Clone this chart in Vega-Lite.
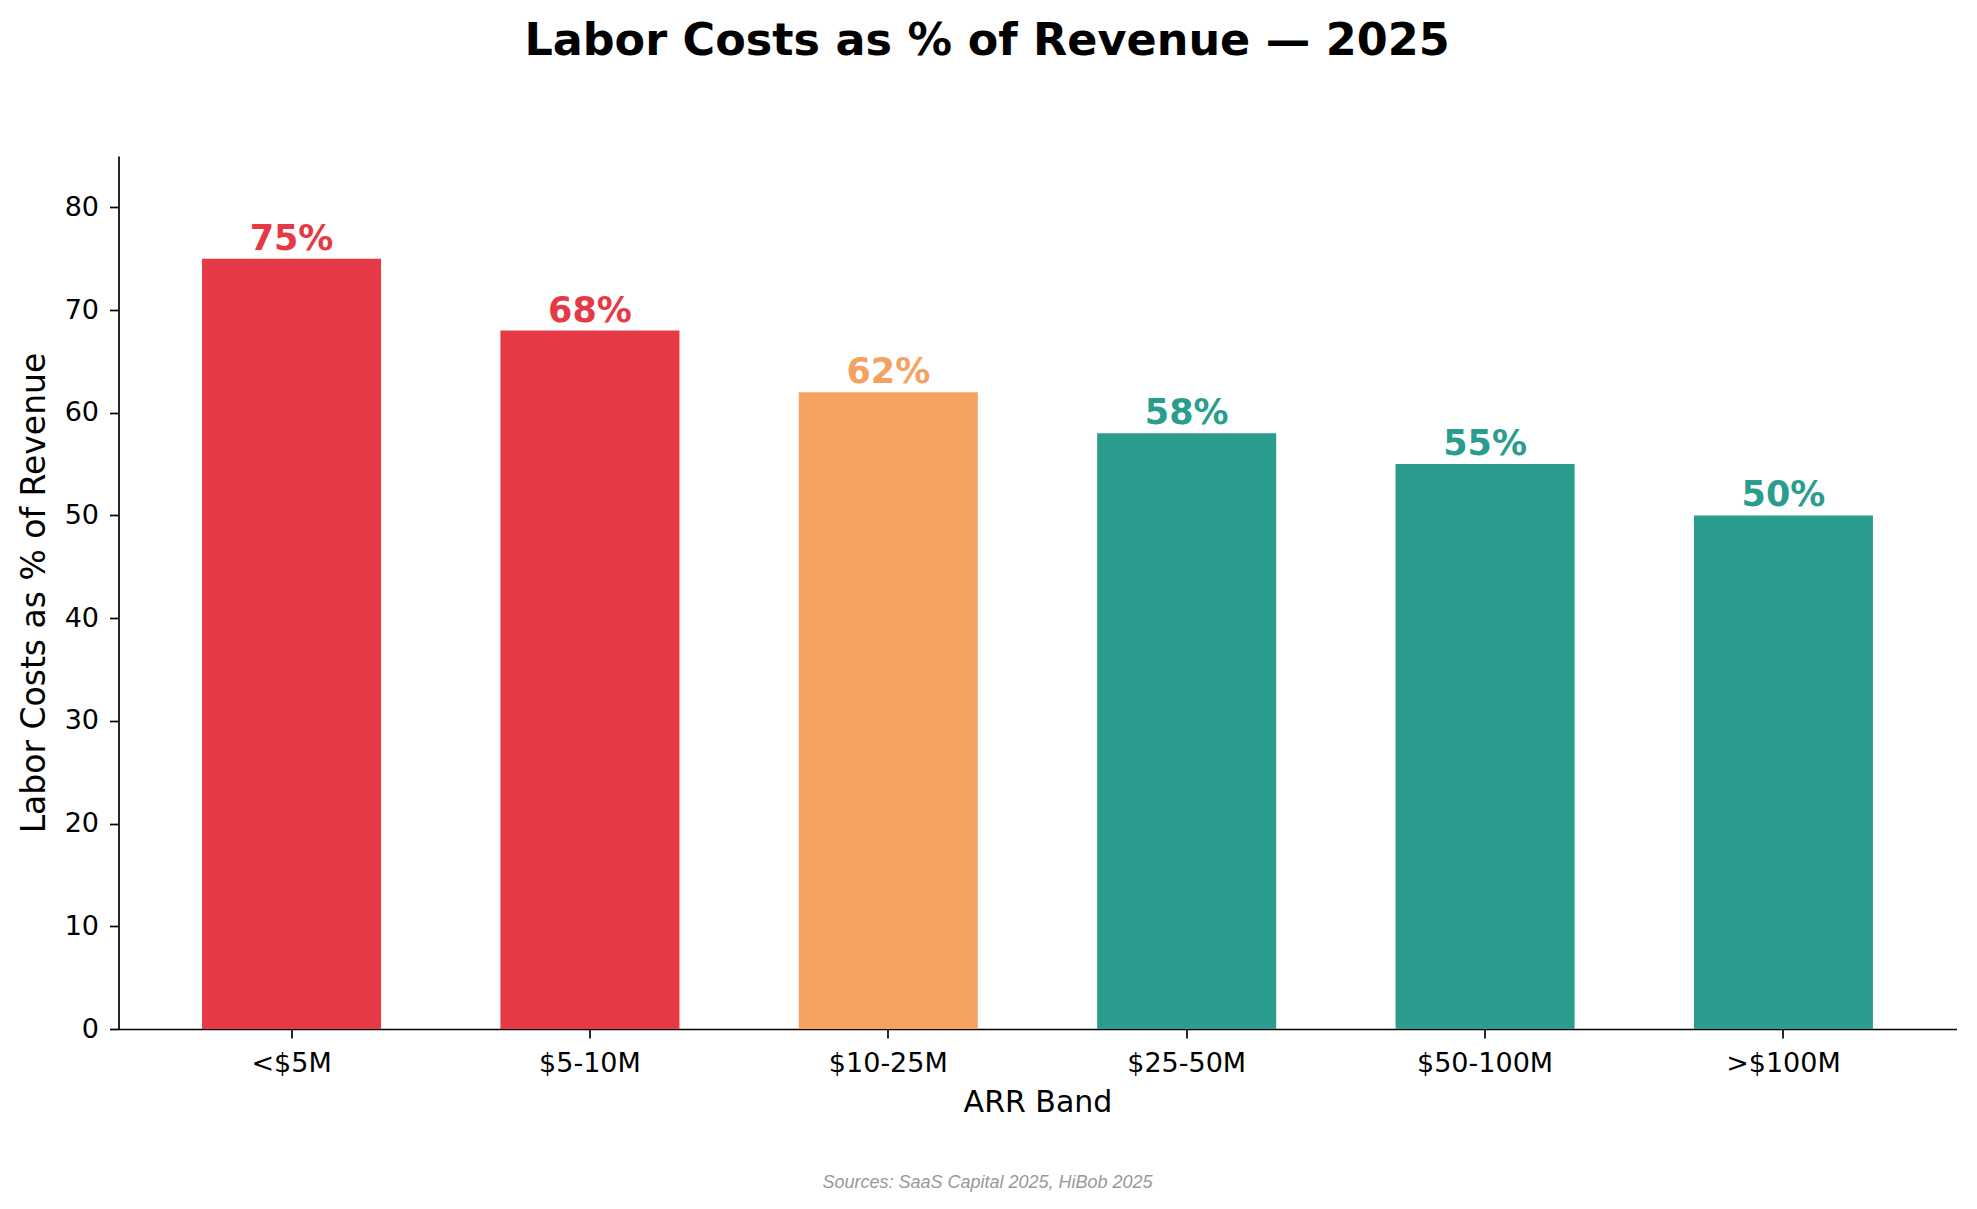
{
  "$schema": "https://vega.github.io/schema/vega-lite/v6.json",
  "width": 1838,
  "height": 873,
  "autosize": {"type": "none"},
  "padding": {"left": 118.5, "top": 156, "right": 20.5, "bottom": 180},
  "background": "white",
  "config": {"view": {"stroke": null}, "font": "DejaVu Sans"},
  "title": {
    "text": "Labor Costs as % of Revenue — 2025",
    "fontSize": 44.5,
    "fontWeight": "bold",
    "font": "DejaVu Sans",
    "color": "black",
    "anchor": "middle",
    "dx": -50.5,
    "dy": 43,
    "offset": 100,
    "baseline": "alphabetic"
  },
  "data": {
    "values": [
      {"band": "<$5M", "value": 75, "label": "75%", "tier": "high"},
      {"band": "$5-10M", "value": 68, "label": "68%", "tier": "high"},
      {"band": "$10-25M", "value": 62, "label": "62%", "tier": "mid"},
      {"band": "$25-50M", "value": 58, "label": "58%", "tier": "low"},
      {"band": "$50-100M", "value": 55, "label": "55%", "tier": "low"},
      {"band": ">$100M", "value": 50, "label": "50%", "tier": "low"}
    ]
  },
  "layer": [
    {
      "mark": {"type": "bar"},
      "encoding": {
        "x": {
          "field": "band",
          "type": "nominal",
          "sort": null,
          "scale": {"paddingInner": 0.4, "paddingOuter": 0.28},
          "axis": {
            "title": "ARR Band",
            "titleFontSize": 30,
            "titleFontWeight": "normal",
            "titleColor": "black",
            "titleFont": "DejaVu Sans",
            "titlePadding": 11,
            "labelAngle": 0,
            "labelFontSize": 27,
            "labelColor": "black",
            "labelFont": "DejaVu Sans",
            "labelPadding": 12,
            "domainColor": "black",
            "domainWidth": 1.7,
            "tickColor": "black",
            "tickWidth": 1.7,
            "tickSize": 9
          }
        },
        "y": {
          "field": "value",
          "type": "quantitative",
          "scale": {"domain": [0, 85], "nice": false},
          "axis": {
            "title": "Labor Costs as % of Revenue",
            "values": [0, 10, 20, 30, 40, 50, 60, 70, 80],
            "grid": false,
            "titleFontSize": 33,
            "titleFontWeight": "normal",
            "titleColor": "black",
            "titleFont": "DejaVu Sans",
            "titlePadding": 13,
            "labelFontSize": 27,
            "labelColor": "black",
            "labelFont": "DejaVu Sans",
            "labelPadding": 11,
            "domainColor": "black",
            "domainWidth": 1.7,
            "tickColor": "black",
            "tickWidth": 1.7,
            "tickSize": 9
          }
        },
        "color": {
          "field": "tier",
          "type": "nominal",
          "scale": {"domain": ["high", "mid", "low"], "range": ["#e63946", "#f4a261", "#2a9d8f"]},
          "legend": null
        }
      }
    },
    {
      "mark": {"type": "text", "fontSize": 35, "fontWeight": "bold", "font": "DejaVu Sans", "baseline": "alphabetic", "dy": -9},
      "encoding": {
        "x": {"field": "band", "type": "nominal", "sort": null},
        "y": {"field": "value", "type": "quantitative"},
        "text": {"field": "label"},
        "color": {"field": "tier", "type": "nominal", "legend": null}
      }
    },
    {
      "data": {"values": [{"source": "Sources: SaaS Capital 2025, HiBob 2025"}]},
      "mark": {"type": "text", "font": "Liberation Sans", "fontStyle": "italic", "fontSize": 18, "color": "#999999", "baseline": "middle", "dx": -50, "dy": 590},
      "encoding": {"text": {"field": "source"}}
    }
  ]
}
